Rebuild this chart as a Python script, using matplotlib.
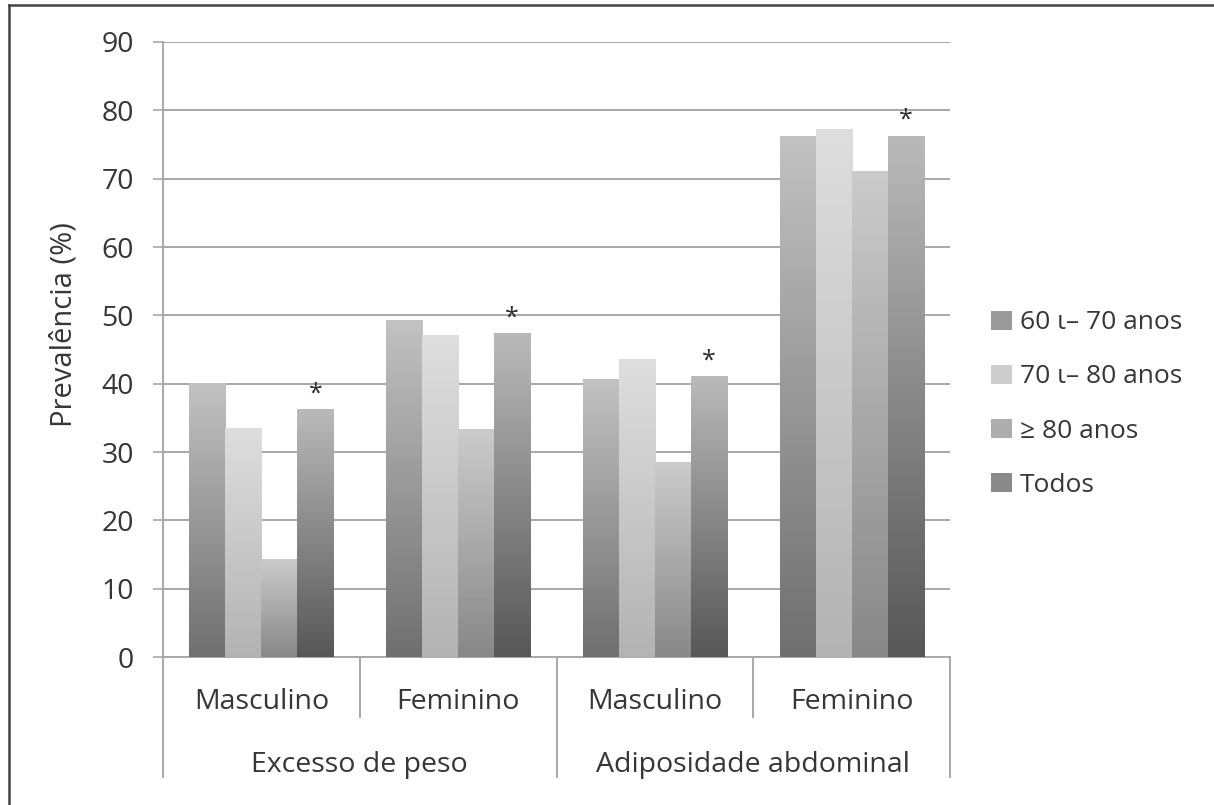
import matplotlib
matplotlib.use("Agg")
import matplotlib.pyplot as plt
import numpy as np
from matplotlib.colors import LinearSegmentedColormap
from matplotlib.patches import Patch
from matplotlib.lines import Line2D

plt.rcParams['font.family'] = ['Open Sans', 'DejaVu Sans']

# Data
subgroups = ["Masculino", "Feminino", "Masculino", "Feminino"]
outcomes = ["Excesso de peso", "Adiposidade abdominal"]
series_labels = ["60 ι– 70 anos", "70 ι– 80 anos", "≥ 80 anos", "Todos"]
age_60_70 = [40.0, 49.2, 40.6, 76.2]
age_70_80 = [33.5, 47.0, 43.5, 77.2]
age_80_plus = [14.3, 33.3, 28.5, 71.0]
todos = [36.2, 47.3, 41.0, 76.2]
significant = [True, True, True, True]
yticks = list(range(0, 91, 10))

series = [age_60_70, age_70_80, age_80_plus, todos]
# gradient colours (top, bottom) for each series
grad = [("#c2c2c2", "#6f6f6f"),
        ("#dedede", "#b3b3b3"),
        ("#cbcbcb", "#888888"),
        ("#bababa", "#575757")]

W, H = 1214, 805
fig = plt.figure(figsize=(W / 100, H / 100), dpi=100)
fig.patch.set_facecolor("white")
ax = fig.add_axes([163 / W, 1 - 657 / H, (950 - 163) / W, (657 - 42) / H])

n_groups = len(subgroups)
bar_w = 0.183
x = np.arange(n_groups)
offsets = (np.arange(4) - 1.5) * bar_w

ax.set_xlim(-0.5, n_groups - 0.5)
ax.set_ylim(0, 90)

for s, vals in enumerate(series):
    cmap = LinearSegmentedColormap.from_list(f"g{s}", [grad[s][1], grad[s][0]])
    bars = ax.bar(x + offsets[s], vals, width=bar_w, color="none", zorder=2)
    for rect in bars:
        x0 = rect.get_x()
        h = rect.get_height()
        g = np.linspace(0, 1, 256).reshape(-1, 1)
        ax.imshow(g, extent=[x0, x0 + bar_w, 0, h], origin="lower",
                  aspect="auto", cmap=cmap, zorder=3, interpolation="bicubic")

# significance markers over the "Todos" bars
for i, v in enumerate(todos):
    if significant[i]:
        ax.text(x[i] + offsets[3], v + 2.3, "*", ha="center", va="center",
                fontsize=18, color="#2e2e2e", zorder=4)

ax.set_xlim(-0.5, n_groups - 0.5)
ax.set_ylim(0, 90)

grid_c = "#a8a8a8"
text_c = "#363636"
ax.set_yticks(yticks)
ax.set_yticklabels([str(t) for t in yticks], fontsize=20.5, color=text_c)
ax.yaxis.grid(True, color=grid_c, linewidth=1.4, zorder=0)
ax.set_axisbelow(True)
ax.tick_params(axis="y", direction="out", length=7, width=1.2, color=grid_c, pad=14)
ax.set_xticks([])
for sp in ["top", "right"]:
    ax.spines[sp].set_visible(False)
ax.spines["left"].set_color(grid_c)
ax.spines["left"].set_linewidth(1.4)
ax.spines["bottom"].set_color(grid_c)
ax.spines["bottom"].set_linewidth(1.4)

fig.text(64 / W, 1 - 325 / H, "Prevalência (%)", rotation=90, ha="center",
         va="center", fontsize=21, color=text_c)

# two-level category axis
axis_h = 657 - 42
y_inner = -(717 - 657) / axis_h
y_outer = -(777 - 657) / axis_h
trans = ax.get_xaxis_transform()
for b in [-0.5, 1.5, 3.5]:
    ax.add_line(Line2D([b, b], [0, y_outer], transform=trans, color=grid_c,
                       linewidth=1.4, clip_on=False))
for b in [0.5, 2.5]:
    ax.add_line(Line2D([b, b], [0, y_inner], transform=trans, color=grid_c,
                       linewidth=1.4, clip_on=False))
for i, name in enumerate(subgroups):
    ax.text(i, -(702 - 657) / axis_h, name, transform=trans, ha="center",
            va="center", fontsize=20.5, color=text_c)
for j, name in enumerate(outcomes):
    ax.text(2 * j + 0.5, -(765 - 657) / axis_h, name, transform=trans,
            ha="center", va="center", fontsize=20.5, color=text_c)

# legend
handles = [Patch(facecolor=c, edgecolor="none")
           for c in ["#9a9a9a", "#cdcdcd", "#adadad", "#8a8a8a"]]
leg = fig.legend(handles, series_labels, loc="center left",
                 bbox_to_anchor=(978 / W, 1 - 404 / H), frameon=False,
                 fontsize=19, handlelength=0.8, handleheight=0.75,
                 handletextpad=0.3, labelspacing=1.1, borderpad=0)
for t in leg.get_texts():
    t.set_color(text_c)

# frame lines on the left and top edges
fig.add_artist(Line2D([8.5 / W, 8.5 / W], [0, 1 - 5.5 / H], transform=fig.transFigure,
                      color="#444444", linewidth=1.8))
fig.add_artist(Line2D([8.5 / W, 1], [1 - 5.5 / H, 1 - 5.5 / H], transform=fig.transFigure,
                      color="#444444", linewidth=1.8))

fig.savefig("out.png", dpi=100, facecolor="white")
